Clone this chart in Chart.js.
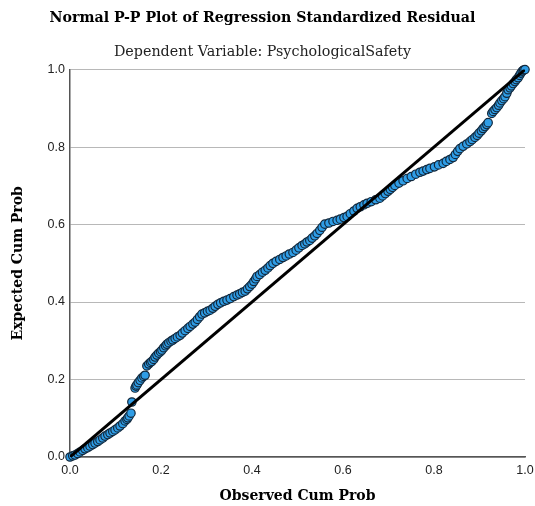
<!DOCTYPE html>
<html>
<head>
<meta charset="utf-8">
<script src="https://cdn.jsdelivr.net/npm/chart.js@4"></script>
<style>
  html, body { margin: 0; padding: 0; background: #fff; }
  #wrap { width: 535px; height: 506px; }
</style>
</head>
<body>
<div id="wrap"><canvas id="chart" width="535" height="506"></canvas></div>
<script>
// observed vs expected cumulative probability
const observedCum = [
    0.000, 0.006, 0.011, 0.017, 0.022, 0.028, 0.033, 0.039, 0.044, 0.050,
    0.055, 0.061, 0.066, 0.072, 0.077, 0.083, 0.088, 0.094, 0.099, 0.105,
    0.110, 0.116, 0.121, 0.125, 0.127, 0.130, 0.134, 0.136, 0.143, 0.145,
    0.147, 0.150, 0.154, 0.158, 0.162, 0.165, 0.169, 0.173, 0.177, 0.180,
    0.184, 0.187, 0.191, 0.195, 0.199, 0.202, 0.206, 0.210, 0.213, 0.217,
    0.222, 0.226, 0.231, 0.236, 0.242, 0.247, 0.253, 0.259, 0.264, 0.270,
    0.275, 0.280, 0.285, 0.290, 0.296, 0.302, 0.308, 0.314, 0.319, 0.325,
    0.331, 0.338, 0.345, 0.352, 0.360, 0.367, 0.373, 0.379, 0.385, 0.390,
    0.395, 0.400, 0.404, 0.408, 0.411, 0.417, 0.423, 0.429, 0.435, 0.440,
    0.446, 0.453, 0.461, 0.468, 0.475, 0.482, 0.490, 0.497, 0.503, 0.510,
    0.516, 0.521, 0.527, 0.532, 0.538, 0.543, 0.549, 0.554, 0.560, 0.569,
    0.578, 0.587, 0.594, 0.602, 0.609, 0.616, 0.624, 0.631, 0.638, 0.646,
    0.653, 0.662, 0.672, 0.681, 0.687, 0.693, 0.699, 0.704, 0.709, 0.714,
    0.723, 0.732, 0.741, 0.750, 0.760, 0.769, 0.776, 0.784, 0.791, 0.801,
    0.810, 0.820, 0.827, 0.835, 0.842, 0.847, 0.852, 0.857, 0.864, 0.872,
    0.879, 0.884, 0.890, 0.895, 0.899, 0.904, 0.908, 0.912, 0.916, 0.919,
    0.927, 0.930, 0.934, 0.938, 0.942, 0.945, 0.949, 0.953, 0.956, 0.960,
    0.963, 0.967, 0.970, 0.974, 0.978, 0.981, 0.985, 0.988, 0.991, 0.994,
    0.997, 1.000
];
const expectedCum = [
    0.000, 0.003, 0.005, 0.009, 0.013, 0.017, 0.021, 0.024, 0.028, 0.032,
    0.036, 0.040, 0.044, 0.049, 0.054, 0.058, 0.062, 0.066, 0.070, 0.075,
    0.080, 0.086, 0.093, 0.097, 0.101, 0.106, 0.113, 0.142, 0.178, 0.183,
    0.186, 0.192, 0.198, 0.204, 0.208, 0.211, 0.235, 0.240, 0.244, 0.247,
    0.252, 0.258, 0.263, 0.268, 0.272, 0.276, 0.282, 0.287, 0.291, 0.295,
    0.299, 0.302, 0.306, 0.310, 0.314, 0.320, 0.326, 0.332, 0.337, 0.343,
    0.348, 0.355, 0.362, 0.369, 0.372, 0.376, 0.379, 0.384, 0.389, 0.394,
    0.398, 0.402, 0.405, 0.409, 0.414, 0.418, 0.421, 0.425, 0.428, 0.434,
    0.440, 0.446, 0.453, 0.460, 0.466, 0.471, 0.477, 0.482, 0.488, 0.494,
    0.500, 0.505, 0.510, 0.515, 0.519, 0.524, 0.528, 0.534, 0.540, 0.546,
    0.550, 0.555, 0.559, 0.565, 0.571, 0.577, 0.585, 0.593, 0.601, 0.604,
    0.608, 0.611, 0.614, 0.618, 0.621, 0.628, 0.635, 0.642, 0.646, 0.651,
    0.655, 0.659, 0.664, 0.668, 0.674, 0.680, 0.686, 0.691, 0.696, 0.701,
    0.707, 0.713, 0.719, 0.724, 0.730, 0.735, 0.738, 0.742, 0.745, 0.749,
    0.754, 0.758, 0.763, 0.768, 0.773, 0.781, 0.789, 0.796, 0.802, 0.808,
    0.814, 0.819, 0.825, 0.830, 0.836, 0.842, 0.848, 0.853, 0.858, 0.863,
    0.887, 0.892, 0.897, 0.902, 0.908, 0.914, 0.920, 0.925, 0.930, 0.939,
    0.948, 0.953, 0.958, 0.964, 0.969, 0.974, 0.979, 0.985, 0.991, 0.996,
    0.999, 1.000
];
// reference diagonal
const diagX = [0, 1];
const diagY = [0, 1];
const tickValues = [0, 0.2, 0.4, 0.6, 0.8, 1.0];

const serif = '"DejaVu Serif", "Liberation Serif", serif';
const sans = '"Liberation Sans", Arial, sans-serif';

document.addEventListener('DOMContentLoaded', () => {
    const data = {
        datasets: [{
            type: 'line',
            data: diagX.map((x, i) => ({ x: x, y: diagY[i] })),
            borderColor: '#000',
            borderWidth: 3,
            pointRadius: 0,
            order: 0
        }, {
            type: 'scatter',
            data: observedCum.map((x, i) => ({ x: x, y: expectedCum[i] })),
            backgroundColor: '#2f9de6',
            borderColor: '#12283c',
            borderWidth: 1.2,
            pointRadius: 4.2,
            clip: false,
            order: 1
        }]
    };

    const tickOpts = {
        font: { family: sans, size: 12.5 },
        color: '#222',
        autoSkip: false,
        callback: (v) => v.toFixed(1)
    };

    const config = {
        type: 'scatter',
        data: data,
        options: {
            responsive: false,
            animation: false,
            layout: { padding: { right: 10 } },
            plugins: {
                legend: { display: false },
                tooltip: { enabled: false },
                title: {
                    display: true,
                    text: 'Normal P-P Plot of Regression Standardized Residual',
                    color: '#000',
                    font: { family: serif, size: 14.2, weight: 'bold' },
                    padding: { top: 10, bottom: 16.4 }
                },
                subtitle: {
                    display: true,
                    text: 'Dependent Variable: PsychologicalSafety',
                    color: '#222',
                    font: { family: serif, size: 14.3 },
                    padding: { top: 0, bottom: 9 }
                }
            },
            scales: {
                x: {
                    type: 'linear',
                    min: 0,
                    max: 1,
                    afterBuildTicks: (s) => { s.ticks = tickValues.map(v => ({ value: v })); },
                    afterFit: (s) => { s.height = 49; s.paddingLeft = 0; s.paddingRight = 0; },
                    grid: { display: false, drawTicks: false },
                    border: { color: '#555', width: 1.5 },
                    ticks: Object.assign({ padding: 6 }, tickOpts),
                    title: {
                        display: true,
                        text: 'Observed Cum Prob',
                        color: '#000',
                        font: { family: serif, size: 14, weight: 'bold' },
                        padding: { top: 0, bottom: 1 }
                    }
                },
                y: {
                    type: 'linear',
                    min: 0,
                    max: 1,
                    afterBuildTicks: (s) => { s.ticks = tickValues.map(v => ({ value: v })); },
                    afterFit: (s) => { s.width = 70; s.paddingTop = 0; s.paddingBottom = 0; },
                    grid: { color: '#b8b8b8', lineWidth: 1, drawTicks: false },
                    border: { color: '#555', width: 1.5 },
                    ticks: Object.assign({ padding: 5 }, tickOpts),
                    title: {
                        display: true,
                        text: 'Expected Cum Prob',
                        color: '#000',
                        font: { family: serif, size: 14, weight: 'bold' },
                        padding: { top: 10, bottom: 0 }
                    }
                }
            }
        }
    };

    const ctx = document.getElementById('chart').getContext('2d');
    new Chart(ctx, config);
});
</script>
</body>
</html>
